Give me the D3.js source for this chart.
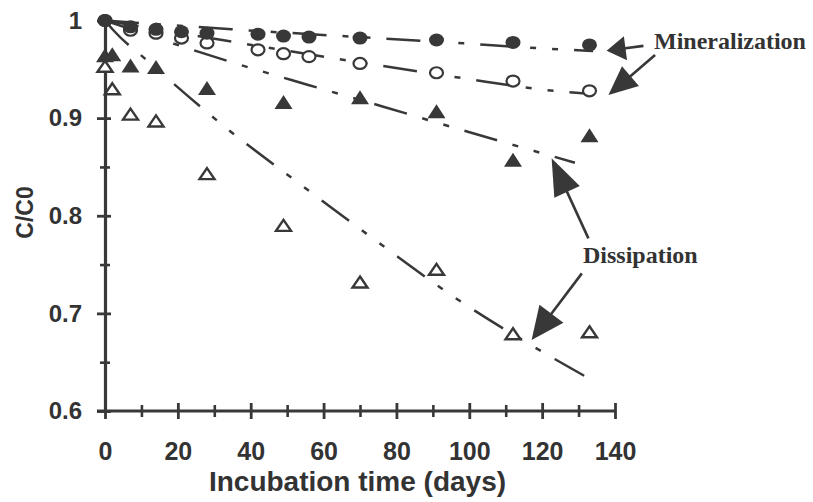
<!DOCTYPE html>
<html>
<head>
<meta charset="utf-8">
<script src="https://cdn.jsdelivr.net/npm/d3@7"></script>
<style>
  body { margin: 0; background: #fff; }
  svg { display: block; }
</style>
</head>
<body>
<svg id="chart"></svg>
<script>
const width = 813;
const height = 502;

// sampling days
const circleDays = [0, 7, 14, 21, 28, 42, 49, 56, 70, 91, 112, 133];
const triangleDays = [0, 2, 7, 14, 28, 49, 70, 91, 112, 133];

// C/C0 values
const filledCircle = [1.0, 0.9935, 0.991, 0.9885, 0.987, 0.986, 0.984, 0.983, 0.982, 0.980, 0.9775, 0.975];
const openCircle = [1.0, 0.990, 0.987, 0.982, 0.977, 0.970, 0.966, 0.963, 0.956, 0.9465, 0.938, 0.928];
const filledTriangle = [0.963, 0.964, 0.9525, 0.951, 0.9295, 0.915, 0.920, 0.9055, 0.856, 0.881];
const openTriangle = [0.952, 0.929, 0.903, 0.896, 0.842, 0.789, 0.731, 0.744, 0.678, 0.680];

// fitted curves, points [day, C/C0]
const fitFilledCircle = [[0, 1.0], [34.8, 0.991], [98.4, 0.9766], [119.4, 0.9715], [134, 0.9687]];
const fitOpenCircle = [[0, 1.0], [34.8, 0.9783], [98.4, 0.9408], [119.4, 0.9295], [134, 0.9245]];
const fitFilledTriangle = [[0, 1.0], [34.3, 0.9578], [55.8, 0.934], [76.4, 0.9117], [97.4, 0.8885], [118.5, 0.8656], [129, 0.8543]];
const fitOpenTriangle = [[0, 1.0], [2.3, 0.990], [11.9, 0.958], [32.9, 0.891], [54.4, 0.830], [76, 0.770], [96.5, 0.715], [117.6, 0.666], [133, 0.633]];

// axis ticks
const xMajor = [0, 20, 40, 60, 80, 100, 120, 140];
const xMinor = [10, 30, 50, 70, 90, 110, 130];
const yMajor = [0.6, 0.7, 0.8, 0.9, 1];
const yMinor = [0.65, 0.75, 0.85, 0.95];

// annotation arrows: tail and tip in data units
const arrowTail = [[147.8, 0.974], [151, 0.9647], [132.7, 0.7768], [130.9, 0.741]];
const arrowTip = [[137.7, 0.969], [138.2, 0.9237], [122.6, 0.8588], [117.1, 0.6727]];

const ink = '#383838';

const svg = d3.select('#chart')
    .attr('width', width)
    .attr('height', height);

const x = d3.scaleLinear().domain([0, 140]).range([105, 615]);
const y = d3.scaleLinear().domain([0.6, 1]).range([411, 20.5]);

// ---- axes
const xAxisMinor = svg.append('g')
    .attr('transform', `translate(0, ${y(0.6)})`)
    .call(d3.axisBottom(x).tickValues(xMinor).tickSize(6).tickFormat(''));
xAxisMinor.select('.domain').remove();
xAxisMinor.selectAll('.tick line').attr('y1', -6).attr('y2', 6).attr('stroke', ink).attr('stroke-width', 2.6);

const xAxis = svg.append('g')
    .attr('transform', `translate(0, ${y(0.6)})`)
    .call(d3.axisBottom(x).tickValues(xMajor).tickSize(8).tickSizeOuter(0));
xAxis.select('.domain').attr('stroke', ink).attr('stroke-width', 3)
    .attr('d', `M${x(0) - 8},0H${x(140)}`);
xAxis.selectAll('.tick line').attr('y1', -8).attr('y2', 8).attr('stroke', ink).attr('stroke-width', 2.8);
xAxis.selectAll('.tick text')
    .attr('y', 49).attr('dy', null)
    .attr('fill', '#333')
    .style('font', 'bold 25px "Liberation Sans", Arial, sans-serif');

const yAxisMinor = svg.append('g')
    .attr('transform', `translate(${x(0)}, 0)`)
    .call(d3.axisLeft(y).tickValues(yMinor).tickSize(5).tickFormat(''));
yAxisMinor.select('.domain').remove();
yAxisMinor.selectAll('.tick line').attr('x1', -5).attr('x2', 5).attr('stroke', ink).attr('stroke-width', 2.6);

const yAxis = svg.append('g')
    .attr('transform', `translate(${x(0)}, 0)`)
    .call(d3.axisLeft(y).tickValues(yMajor).tickSize(8).tickSizeOuter(0)
        .tickFormat(d => d === 1 ? '1' : d3.format('.1f')(d)));
yAxis.select('.domain').attr('stroke', ink).attr('stroke-width', 3.2);
yAxis.selectAll('.tick line').attr('x1', -8).attr('x2', 6).attr('stroke', ink).attr('stroke-width', 2.8);
yAxis.selectAll('.tick text')
    .attr('x', -23)
    .attr('fill', '#333')
    .style('font', 'bold 24px "Liberation Sans", Arial, sans-serif');

// axis titles
svg.append('text')
    .attr('x', 357.5)
    .attr('y', 491)
    .attr('text-anchor', 'middle')
    .attr('fill', '#333')
    .style('font', 'bold 28px "Liberation Sans", Arial, sans-serif')
    .text('Incubation time (days)');

svg.append('text')
    .attr('transform', 'translate(33, 212.5) rotate(-90)')
    .attr('text-anchor', 'middle')
    .attr('fill', '#333')
    .style('font', 'bold 23px "Liberation Sans", Arial, sans-serif')
    .text('C/C0');

// ---- fitted curves
const line = d3.line()
    .x(d => x(d[0]))
    .y(d => y(d[1]))
    .curve(d3.curveMonotoneX);

[fitFilledCircle, fitOpenCircle, fitFilledTriangle, fitOpenTriangle].forEach(fit => {
    svg.append('path')
        .datum(fit)
        .attr('d', line)
        .attr('fill', 'none')
        .attr('stroke', ink)
        .attr('stroke-width', 2.5)
        .attr('stroke-dasharray', '34,16,6,16,6,16');
});

// ---- markers
function triPath(w, h) {
    return `M0,${-h * 0.6}L${w / 2},${h * 0.4}L${-w / 2},${h * 0.4}Z`;
}

svg.append('g').selectAll('path')
    .data(triangleDays.map((d, i) => [d, openTriangle[i]]))
    .join('path')
    .attr('transform', d => `translate(${x(d[0])}, ${y(d[1])})`)
    .attr('d', triPath(15, 11))
    .attr('fill', '#fff')
    .attr('stroke', ink)
    .attr('stroke-width', 2.4);

svg.append('g').selectAll('path')
    .data(triangleDays.map((d, i) => [d, filledTriangle[i]]))
    .join('path')
    .attr('transform', d => `translate(${x(d[0])}, ${y(d[1])})`)
    .attr('d', triPath(18, 14))
    .attr('fill', ink);

svg.append('g').selectAll('ellipse')
    .data(circleDays.map((d, i) => [d, openCircle[i]]))
    .join('ellipse')
    .attr('cx', d => x(d[0]))
    .attr('cy', d => y(d[1]))
    .attr('rx', 6.5)
    .attr('ry', 5.5)
    .attr('fill', '#fff')
    .attr('stroke', ink)
    .attr('stroke-width', 2.2);

svg.append('g').selectAll('ellipse')
    .data(circleDays.map((d, i) => [d, filledCircle[i]]))
    .join('ellipse')
    .attr('cx', d => x(d[0]))
    .attr('cy', d => y(d[1]))
    .attr('rx', 7.5)
    .attr('ry', 6.5)
    .attr('fill', ink);

// ---- annotation arrows
const headSize = [[19, 12], [29, 13], [37, 14], [33, 15]];

arrowTail.forEach((t, i) => {
    const x0 = x(t[0]), y0 = y(t[1]);
    const x1 = x(arrowTip[i][0]), y1 = y(arrowTip[i][1]);
    const len = Math.hypot(x1 - x0, y1 - y0);
    const ux = (x1 - x0) / len, uy = (y1 - y0) / len;
    const [L, W] = headSize[i];
    const bx = x1 - ux * L, by = y1 - uy * L;
    svg.append('line')
        .attr('x1', x0).attr('y1', y0)
        .attr('x2', bx + ux * 2).attr('y2', by + uy * 2)
        .attr('stroke', ink)
        .attr('stroke-width', 2.6);
    svg.append('path')
        .attr('d', `M${x1},${y1}L${bx - uy * W},${by + ux * W}L${bx + uy * W},${by - ux * W}Z`)
        .attr('fill', ink);
});

svg.append('text')
    .attr('x', 654)
    .attr('y', 49)
    .attr('fill', '#333')
    .style('font', 'bold 24px "Liberation Serif", "Times New Roman", serif')
    .text('Mineralization');

svg.append('text')
    .attr('x', 583)
    .attr('y', 263)
    .attr('fill', '#333')
    .style('font', 'bold 24px "Liberation Serif", "Times New Roman", serif')
    .text('Dissipation');
</script>
</body>
</html>
